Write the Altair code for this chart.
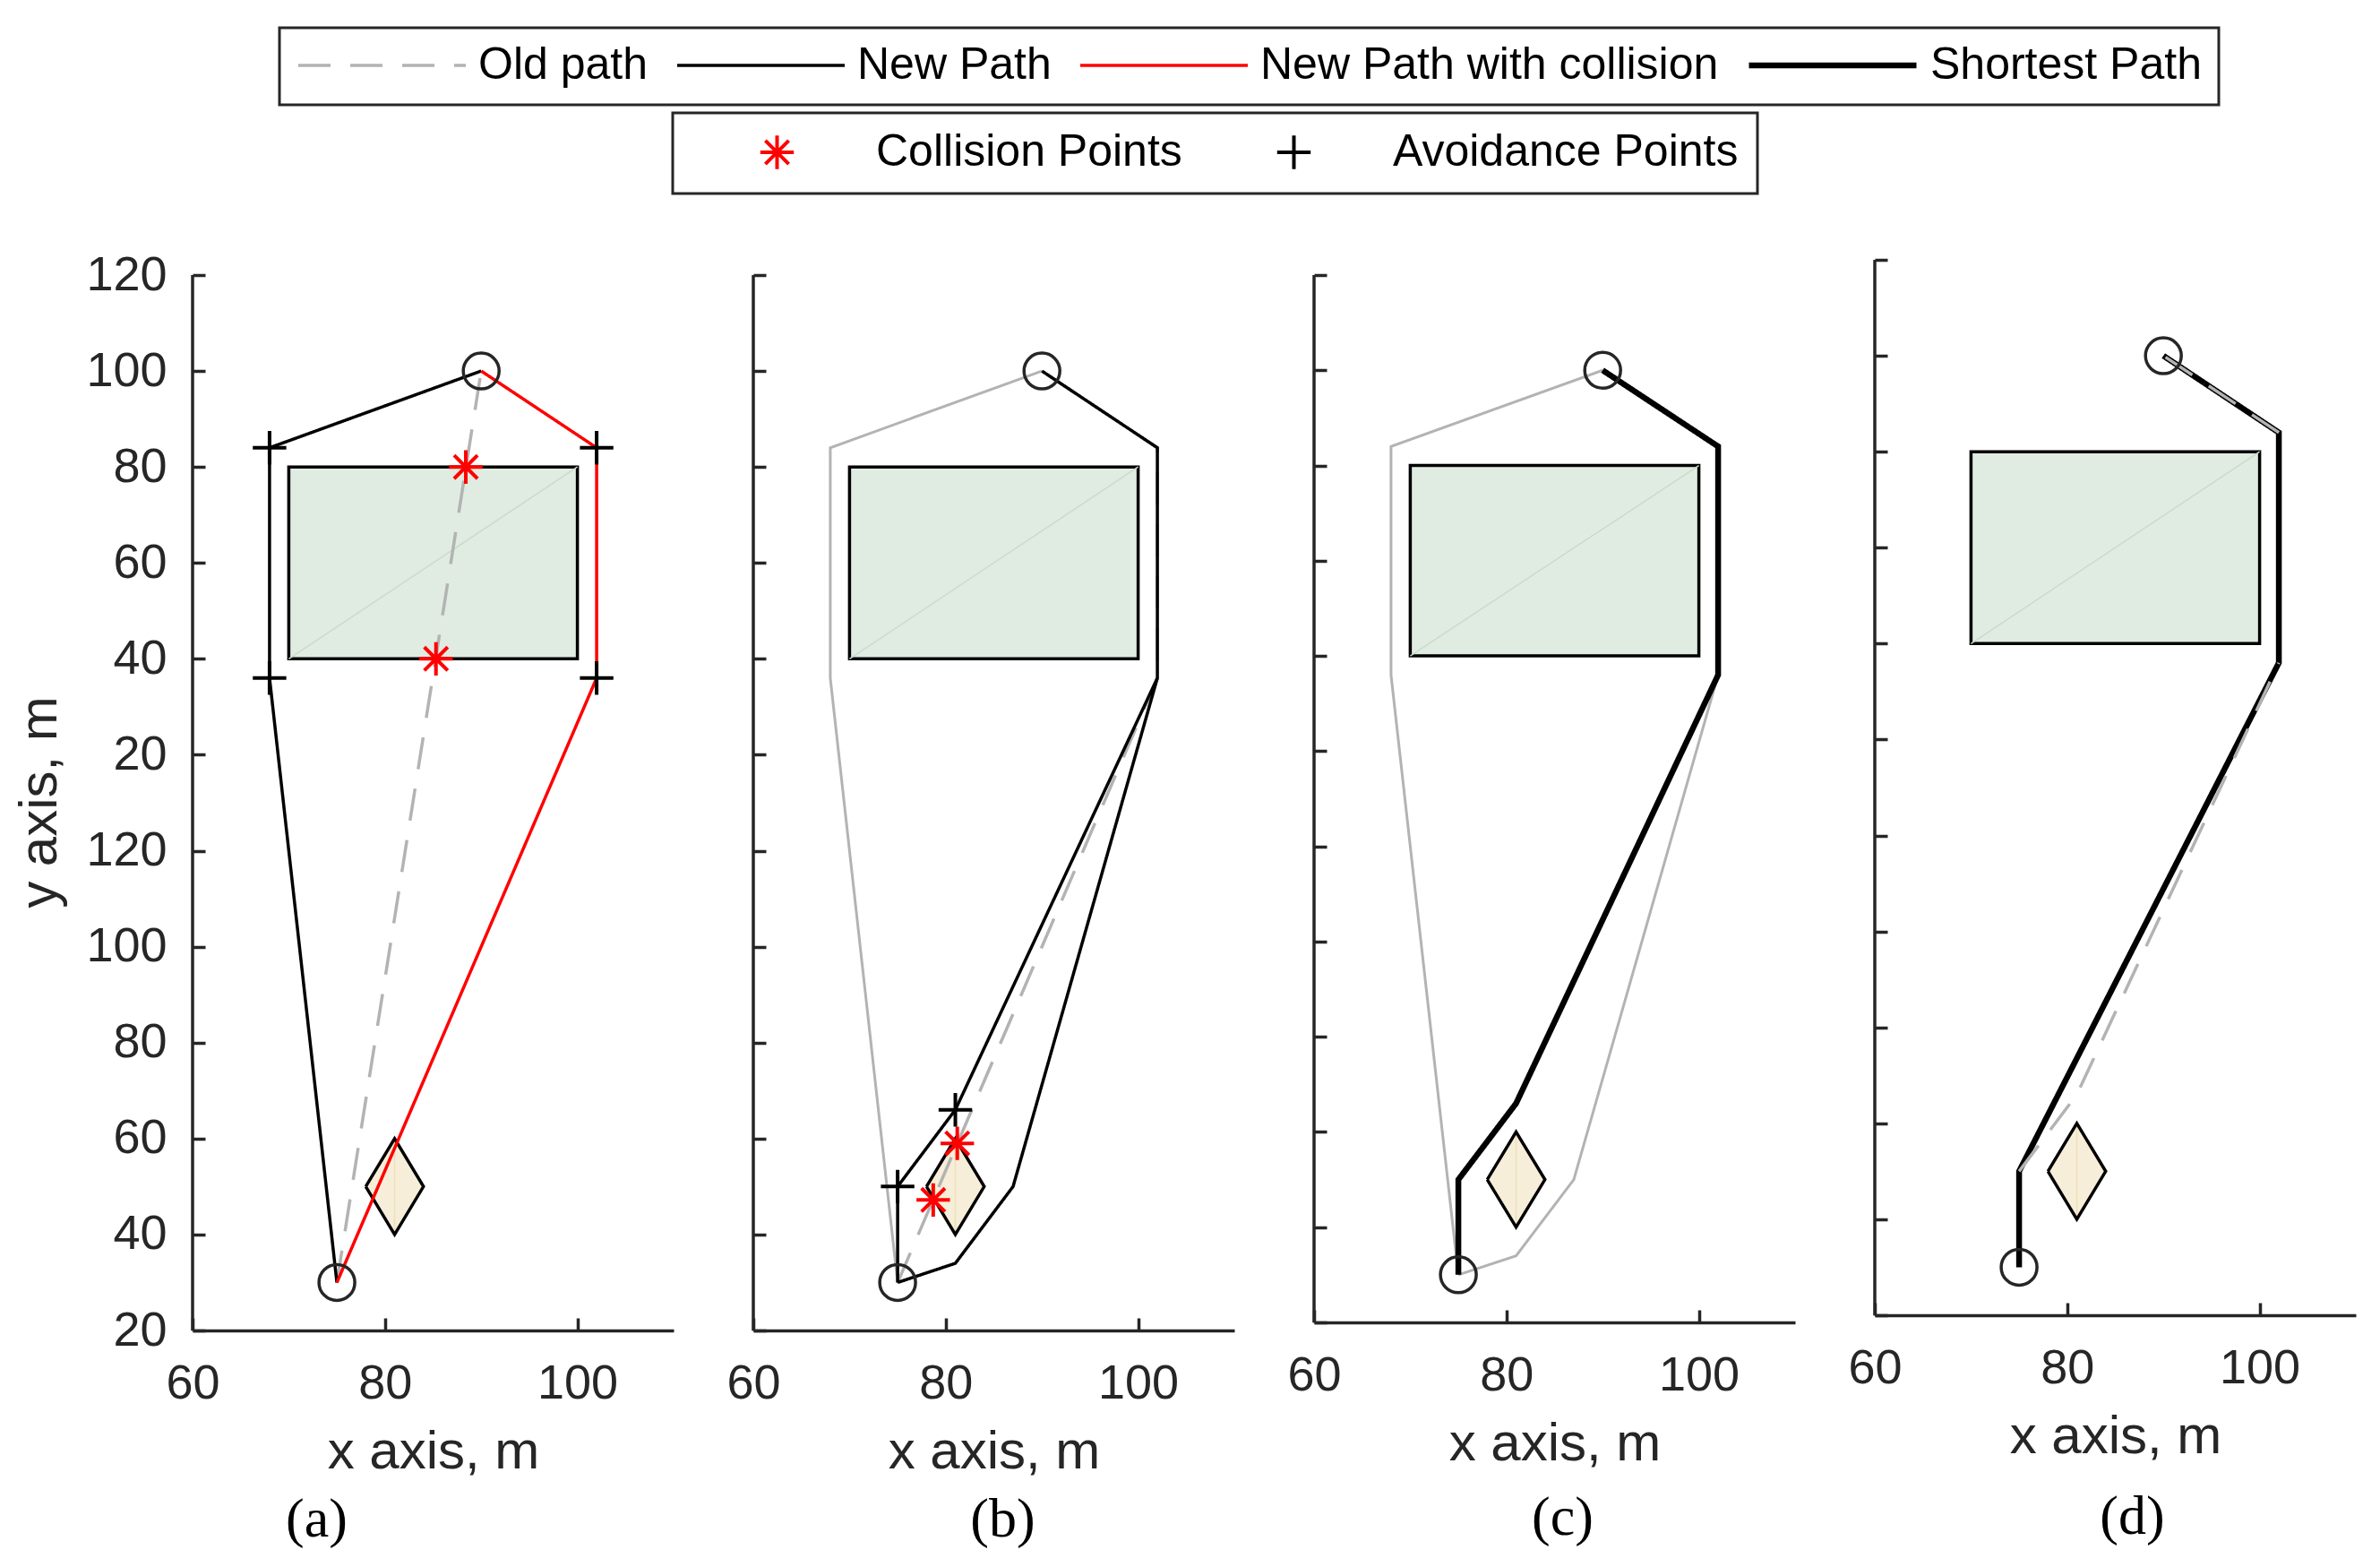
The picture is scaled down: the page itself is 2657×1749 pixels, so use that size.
import json
import altair as alt
import pandas as pd

SANS = "Liberation Sans"
SERIF = "Liberation Serif"
AXIS_COLOR = "#262626"

# ---------------- data ----------------
X_DOMAIN = [60, 110]
X_TICKS = [60, 80, 100]
# stacked y axis: tick positions and the labels printed at them
Y_TICK_POS = [0, 20, 40, 60, 80, 100, 120, 140, 160, 180, 200, 220]
Y_TICK_LABELS = ["20", "40", "60", "80", "100", "120", "20", "40", "60", "80", "100", "120"]

SERIES = ["Old path", "New Path", "New Path with collision", "Shortest Path"]
SERIES_COLORS = ["#b3b3b3", "#000000", "#ff0000", "#000000"]
SERIES_DASH = [[36, 22], [1, 0], [1, 0], [1, 0]]
SERIES_WIDTH = [3.5, 3.5, 3.5, 6.5]

POINT_TYPES = ["Collision Points", "Avoidance Points"]
POINT_COLORS = ["#ff0000", "#000000"]
ASTERISK = "M0,-0.2L0,0.2M-0.2,0L0.2,0M-0.14,-0.14L0.14,0.14M-0.14,0.14L0.14,-0.14"
PLUS = "M-0.2,0L0.2,0M0,-0.2L0,0.2"

START_XY = [75, 10]
GOAL_XY = [90, 200]
OBST_X = [70, 100]
OBST_Y = [140, 180]
DIAMOND_X = [78, 81, 84, 81, 78]
DIAMOND_Y = [30, 40, 30, 20, 30]

# (a)
A_OLD_PATH = [[75, 10], [90, 200]]
A_NEW_PATH = [[75, 10], [68, 136], [68, 184], [90, 200]]
A_COLL_PATH = [[75, 10], [102, 136], [102, 184], [90, 200]]
A_COLLISIONS = [[88.4, 180], [85.3, 140]]
A_AVOIDANCE = [[68, 184], [68, 136], [102, 184], [102, 136]]
# (b)
B_OLD_PATH = [[75, 10], [102, 136], [102, 184], [90, 200]]
B_PREV_PATH = [[75, 10], [68, 136], [68, 184], [90, 200]]
B_NEW_PATH_1 = [[90, 200], [102, 184], [102, 136], [87, 30], [81, 14], [75, 10]]
B_NEW_PATH_2 = [[102, 136], [81, 46], [75, 30], [75, 10]]
B_COLLISIONS = [[81.2, 39], [78.7, 27.2]]
B_AVOIDANCE = [[81, 46], [75, 30]]
# (c)
C_PREV_PATH_1 = [[75, 10], [68, 136], [68, 184], [90, 200]]
C_PREV_PATH_2 = [[75, 10], [81, 14], [87, 30], [102, 136], [102, 184], [90, 200]]
C_SHORTEST = [[90, 200], [102, 184], [102, 136], [81, 46], [75, 30], [75, 10]]
# (d)
D_SHORTEST = [[75, 10], [75, 30], [102, 136], [102, 184], [90, 200]]
D_OLD_PATH_1 = [[75, 30], [81, 46], [102, 136]]
D_OLD_PATH_2 = [[102, 184], [90, 200]]

PANEL_W = 537
SPACING = 89

LINE_LEGEND = alt.Legend(
    title=None, orient="none", legendX=97, legendY=-259, direction="horizontal",
    symbolType="stroke", symbolSize=34969, labelFont=SANS, labelFontSize=50,
    labelColor="black", labelOffset=12, columnPadding=30, padding=19,
    strokeColor=AXIS_COLOR, fillColor="white", clipHeight=46, labelLimit=3000,
)
POINT_LEGEND = alt.Legend(
    title=None, orient="none", legendX=536, legendY=-164, direction="horizontal",
    symbolSize=34969, symbolStrokeWidth=4, labelFont=SANS, labelFontSize=50,
    labelColor="black", labelOffset=15, columnPadding=29, padding=21,
    strokeColor=AXIS_COLOR, fillColor="white", clipHeight=46, labelLimit=3000,
)


def path_rows(points, series, pid, z):
    return [dict(x=p[0], y=p[1], series=series, path=pid, order=i, z=z)
            for i, p in enumerate(points)]


def make_panel(series_paths, prev_paths, collisions, avoidance, y_top, height,
               y_labels, caption, cap_dx, cap_offset):
    xs = alt.Scale(domain=X_DOMAIN, nice=False, zero=False)
    ys = alt.Scale(domain=[0, y_top], nice=False, zero=False)

    def X(axis=None):
        return alt.X("x:Q", scale=xs, axis=axis)

    def Y(axis=None):
        return alt.Y("y:Q", scale=ys, axis=axis)

    x_label_axis = alt.Axis(
        orient="bottom", values=X_TICKS, ticks=False, tickSize=0, domain=True,
        domainColor=AXIS_COLOR, domainWidth=3.5, grid=False, labelFlush=False,
        labelFont=SANS, labelFontSize=54, labelColor=AXIS_COLOR, labelPadding=32,
        title="x axis, m", titleFont=SANS, titleFontSize=60, titleFontWeight="normal",
        titleColor=AXIS_COLOR, titleY=153, titleBaseline="alphabetic",
    )
    if y_labels:
        y_label_axis = alt.Axis(
            orient="left", values=Y_TICK_POS,
            labelExpr=f"{json.dumps(Y_TICK_LABELS)}[round(datum.value / 20)]",
            ticks=False, tickSize=0, domain=False, grid=False, labelFlush=False,
            labelOverlap=False, labelFont=SANS, labelFontSize=54, labelColor=AXIS_COLOR,
            labelPadding=29, title="y axis, m", titleFont=SANS, titleFontSize=60,
            titleFontWeight="normal", titleColor=AXIS_COLOR, titleAngle=270,
            titleX=-153, titleY=605, titleBaseline="alphabetic", titleAlign="center",
        )
    else:
        y_label_axis = None
    x_tick_axis = alt.Axis(
        orient="top", offset=-height, values=X_TICKS, ticks=True, tickSize=14,
        tickWidth=3.5, tickColor=AXIS_COLOR, domain=False, labels=False, grid=False,
        title=None,
    )
    y_tick_axis = alt.Axis(
        orient="right", offset=-PANEL_W, values=Y_TICK_POS, ticks=True, tickSize=14,
        tickWidth=3.5, tickColor=AXIS_COLOR, domain=False, labels=False, grid=False,
        title=None,
    )

    layers = []
    rect_df = pd.DataFrame({"x": [OBST_X[0]], "x2": [OBST_X[1]],
                            "y": [OBST_Y[0]], "y2": [OBST_Y[1]]})
    layers.append(alt.Chart(rect_df).mark_rect(fill="#e0ece1", stroke="black", strokeWidth=3.5)
                  .encode(x=X(x_label_axis), x2="x2:Q", y=Y(y_label_axis), y2="y2:Q"))
    diag_df = pd.DataFrame({"x": OBST_X, "y": OBST_Y})
    layers.append(alt.Chart(diag_df).mark_line(color="#c8dcca", strokeWidth=1.5)
                  .encode(x=X(), y=Y()))

    dx = sorted(set(DIAMOND_X))
    area_df = pd.DataFrame({
        "x": dx,
        "y": [max(yv for xv, yv in zip(DIAMOND_X, DIAMOND_Y) if xv == v) for v in dx],
        "y2": [min(yv for xv, yv in zip(DIAMOND_X, DIAMOND_Y) if xv == v) for v in dx],
    })
    layers.append(alt.Chart(area_df).mark_area(color="#f6eed8", opacity=1)
                  .encode(x=X(), y=Y(), y2="y2:Q"))
    mid = dx[len(dx) // 2]
    vline_df = pd.DataFrame({"x": [mid, mid],
                             "y": [v for xv, v in zip(DIAMOND_X, DIAMOND_Y) if xv == mid]})
    layers.append(alt.Chart(vline_df).mark_line(color="#efdfbd", strokeWidth=1.5)
                  .encode(x=X(), y=Y()))
    dia_df = pd.DataFrame({"x": DIAMOND_X, "y": DIAMOND_Y, "order": range(len(DIAMOND_X))})
    layers.append(alt.Chart(dia_df).mark_line(color="black", strokeWidth=3.5)
                  .encode(x=X(), y=Y(), order="order:Q"))

    if prev_paths:
        rows = []
        for i, p in enumerate(prev_paths):
            rows += path_rows(p, "prev", f"prev{i}", 0)
        layers.append(alt.Chart(pd.DataFrame(rows)).mark_line(color="#b3b3b3", strokeWidth=3)
                      .encode(x=X(), y=Y(), detail="path:N", order="order:Q"))

    rows = []
    for i, (s, p, z) in enumerate(series_paths):
        rows += path_rows(p, s, f"p{i}", z)
    ldf = pd.DataFrame(rows)
    for z in (0, 1):
        sub = ldf[ldf["z"] == z]
        if len(sub) == 0:
            continue
        layers.append(
            alt.Chart(sub).mark_line(strokeCap="butt", strokeJoin="miter").encode(
                x=X(), y=Y(),
                color=alt.Color("series:N", scale=alt.Scale(domain=SERIES, range=SERIES_COLORS),
                                legend=LINE_LEGEND),
                strokeDash=alt.StrokeDash("series:N", scale=alt.Scale(domain=SERIES, range=SERIES_DASH),
                                          legend=LINE_LEGEND),
                strokeWidth=alt.StrokeWidth("series:N",
                                            scale=alt.Scale(type="ordinal", domain=SERIES, range=SERIES_WIDTH),
                                            legend=LINE_LEGEND),
                detail="path:N", order="order:Q",
            )
        )

    prow = [dict(x=p[0], y=p[1], ptype=POINT_TYPES[0]) for p in collisions] + \
           [dict(x=p[0], y=p[1], ptype=POINT_TYPES[1]) for p in avoidance]
    if prow:
        layers.append(
            alt.Chart(pd.DataFrame(prow)).mark_point(filled=False, size=34969, strokeWidth=4, opacity=1)
            .encode(
                x=X(), y=Y(),
                shape=alt.Shape("ptype:N", scale=alt.Scale(domain=POINT_TYPES, range=[ASTERISK, PLUS]),
                                legend=POINT_LEGEND),
                stroke=alt.Stroke("ptype:N", scale=alt.Scale(domain=POINT_TYPES, range=POINT_COLORS),
                                  legend=POINT_LEGEND),
            )
        )

    circ_df = pd.DataFrame({"x": [START_XY[0], GOAL_XY[0]], "y": [START_XY[1], GOAL_XY[1]]})
    layers.append(alt.Chart(circ_df).mark_point(shape="circle", size=1600, filled=False,
                                                color=AXIS_COLOR, strokeWidth=3.5, opacity=1)
                  .encode(x=X(), y=Y()))

    axis_df = pd.DataFrame({"x": [X_DOMAIN[0]], "y": [Y_TICK_POS[0]], "y2": [Y_TICK_POS[-1]]})
    layers.append(alt.Chart(axis_df).mark_rule(color=AXIS_COLOR, strokeWidth=3.5)
                  .encode(x=X(x_tick_axis), y=Y(y_tick_axis), y2="y2:Q"))

    return alt.layer(*layers).resolve_axis(x="independent", y="independent").properties(
        width=PANEL_W, height=height,
        title=alt.TitleParams(text=caption, orient="bottom", anchor="middle", frame="group",
                              font=SERIF, fontSize=62, fontWeight="normal", color="black",
                              dx=cap_dx, offset=cap_offset, baseline="top"),
    )


pa = make_panel(
    [("Old path", A_OLD_PATH, 0), ("New Path", A_NEW_PATH, 1),
     ("New Path with collision", A_COLL_PATH, 1)],
    [], A_COLLISIONS, A_AVOIDANCE, 223.175, 1195, True, "(a)", -130, 16)
pb = make_panel(
    [("Old path", B_OLD_PATH, 0), ("New Path", B_NEW_PATH_1, 1), ("New Path", B_NEW_PATH_2, 1)],
    [B_PREV_PATH], B_COLLISIONS, B_AVOIDANCE, 223.175, 1195, False, "(b)", 10, 16)
pc = make_panel(
    [("Shortest Path", C_SHORTEST, 1)],
    [C_PREV_PATH_1, C_PREV_PATH_2], [], [], 223.2, 1186, False, "(c)", 9, 23)
pd_ = make_panel(
    [("Shortest Path", D_SHORTEST, 0), ("Old path", D_OLD_PATH_1, 1), ("Old path", D_OLD_PATH_2, 1)],
    [], [], [], 220, 1178, False, "(d)", 19, 30)

chart = (
    alt.hconcat(pa, pb, pc, pd_, spacing=SPACING, bounds="flush")
    .resolve_scale(x="independent", y="independent")
    .properties(padding={"left": 6, "top": 21, "right": 5, "bottom": 5}, background="white")
    .configure(font=SANS)
    .configure_view(stroke="transparent", strokeWidth=0)
    .configure_legend(strokeWidth=3)
)

chart.save("out.html", embed_options={"renderer": "svg", "actions": False})
